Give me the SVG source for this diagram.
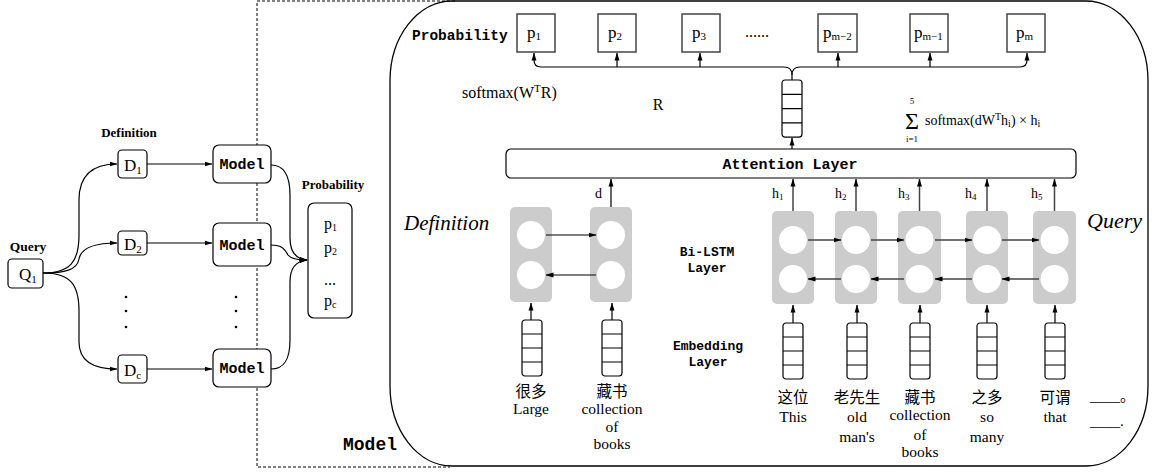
<svg xmlns="http://www.w3.org/2000/svg" width="1153" height="472" viewBox="0 0 1153 472">
<style>
.s{font-family:"Liberation Serif","Times New Roman",serif;fill:#000}
.sb{font-family:"Liberation Serif","Times New Roman",serif;font-weight:bold;fill:#000}
.m{font-family:"Liberation Mono","Courier New",monospace;font-weight:bold;fill:#000}
.cj{font-family:"Liberation Serif","Noto Sans CJK SC",serif;fill:#000}
.box{fill:#fff;stroke:#000;stroke-width:1.2}
.sq{fill:#fff;stroke:#444;stroke-width:1.5}
.ln{fill:none;stroke:#000;stroke-width:1.2}
.ar{fill:none;stroke:#000;stroke-width:1.2;marker-end:url(#ah)}
.gar{fill:none;stroke:#444;stroke-width:1.5;marker-end:url(#ah)}
.gray{fill:#cccccc}
.cir{fill:#fff}
</style>
<defs>
<marker id="ah" markerWidth="8" markerHeight="6" refX="7.5" refY="3" orient="auto" markerUnits="userSpaceOnUse"><path d="M0,0.5 L8,3 L0,5.5 z" fill="#000"/></marker>
<g id="stk"><rect x="0" y="0" width="20" height="56" rx="3" class="box"/><path d="M0,14H20M0,28H20M0,42H20" class="ln"/></g>
</defs>
<rect width="1153" height="472" fill="#fff"/>

<!-- dashed outer model box -->
<path d="M455,1 H257 V467 H450" fill="none" stroke="#000" stroke-width="1" stroke-dasharray="3,2"/>
<!-- big rounded model box -->
<g id="modelbox">
<rect x="390" y="1" width="758" height="465" rx="62" ry="80" fill="none" stroke="#000" stroke-width="1.3"/>
<text x="343" y="450" class="m" font-size="18">Model</text>
</g>

<!-- Left part -->
<text x="129" y="137" class="sb" font-size="13" text-anchor="middle">Definition</text>
<text x="28" y="251" class="sb" font-size="13.5" text-anchor="middle">Query</text>
<text x="333" y="189" class="sb" font-size="13" text-anchor="middle">Probability</text>

<g id="q1"><rect x="8" y="259" width="35" height="29" rx="4" class="box"/><text x="19" y="280" class="s" font-size="17">Q<tspan font-size="11" dy="3">1</tspan></text></g>
<g id="d1"><rect x="118" y="150" width="29" height="28" rx="4" class="box"/><text x="124" y="171" class="s" font-size="17">D<tspan font-size="11" dy="3">1</tspan></text></g>
<g id="d2"><rect x="118" y="231" width="29" height="24" rx="4" class="box"/><text x="124" y="250" class="s" font-size="17">D<tspan font-size="11" dy="3">2</tspan></text></g>
<g id="dc"><rect x="118" y="355" width="29" height="28" rx="4" class="box"/><text x="124" y="376" class="s" font-size="17">D<tspan font-size="11" dy="3">c</tspan></text></g>
<g id="m1"><rect x="213" y="145" width="58" height="38" rx="6" class="box"/><text x="242" y="169" class="m" font-size="15" text-anchor="middle">Model</text></g>
<g id="m2"><rect x="213" y="223" width="58" height="43" rx="6" class="box"/><text x="242" y="250" class="m" font-size="15" text-anchor="middle">Model</text></g>
<g id="m3"><rect x="213" y="349" width="58" height="38" rx="6" class="box"/><text x="242" y="373" class="m" font-size="15" text-anchor="middle">Model</text></g>
<g id="dots">
<circle cx="126" cy="297" r="1.3"/><circle cx="126" cy="311" r="1.3"/><circle cx="126" cy="327" r="1.3"/>
<circle cx="236" cy="297" r="1.3"/><circle cx="236" cy="311" r="1.3"/><circle cx="236" cy="327" r="1.3"/>
</g>
<g id="probleft"><rect x="308" y="203" width="44" height="115" rx="6" class="box"/>
<text x="324" y="229" class="s" font-size="16">p<tspan font-size="10" dy="2">1</tspan></text>
<text x="324" y="253" class="s" font-size="16">p<tspan font-size="10" dy="2">2</tspan></text>
<text x="324" y="285" class="s" font-size="16">...</text>
<text x="324" y="306" class="s" font-size="16">p<tspan font-size="10" dy="2">c</tspan></text>
</g>

<g id="leftconn">
<path d="M43,273 C70,273 79,262 79,235 L79,200 C79,175 92,164 117,164" class="ar"/>
<path d="M43,273 C65,273 77,270 79,259 C81,248 95,243 117,243" class="ar"/>
<path d="M43,273 C70,273 79,284 79,311 L79,342 C79,360 92,369 117,369" class="ar"/>
<path d="M147,164 H212" class="ar"/>
<path d="M147,243 H212" class="ar"/>
<path d="M147,369 H212" class="ar"/>
<path d="M271,165 C284,165 290,175 290,195 L290,238 C290,252 296,259 307,260" class="ar"/>
<path d="M271,245 C283,245 285,250 288,255 C291,259 298,260 307,260" class="ar"/>
<path d="M271,369 C284,369 290,360 290,340 L290,282 C290,268 296,261 307,260" class="ar"/>
</g>

<!-- Right part: top probability -->
<text x="412" y="40" class="m" font-size="14.5">Probability</text>
<g id="p1"><rect x="517" y="14" width="38" height="38" class="sq"/><text x="527" y="38" class="s" font-size="17">p<tspan font-size="11" dy="2">1</tspan></text></g>
<g id="p2"><rect x="598" y="14" width="38" height="38" class="sq"/><text x="608" y="38" class="s" font-size="17">p<tspan font-size="11" dy="2">2</tspan></text></g>
<g id="p3"><rect x="682" y="14" width="38" height="38" class="sq"/><text x="692" y="38" class="s" font-size="17">p<tspan font-size="11" dy="2">3</tspan></text></g>
<text x="745" y="37" class="s" font-size="16">......</text>
<g id="pm2"><rect x="818" y="14" width="39" height="38" class="sq"/><text x="823" y="38" class="s" font-size="17">p<tspan font-size="11" dy="2">m−2</tspan></text></g>
<g id="pm1"><rect x="910" y="14" width="38" height="38" class="sq"/><text x="914" y="38" class="s" font-size="17">p<tspan font-size="11" dy="2">m−1</tspan></text></g>
<g id="pm"><rect x="1007" y="14" width="38" height="38" class="sq"/><text x="1016" y="38" class="s" font-size="17">p<tspan font-size="11" dy="2">m</tspan></text></g>

<text x="462" y="98" class="s" font-size="16">softmax(W<tspan font-size="11" dy="-6">T</tspan><tspan dy="6">R)</tspan></text>
<text x="658" y="110" class="s" font-size="16" text-anchor="middle">R</text>

<g id="rvec"><use href="#stk" transform="translate(782,80) scale(1,1.02)"/></g>

<text x="912" y="129" class="s" font-size="24" text-anchor="middle">Σ</text>
<text x="912" y="104" class="s" font-size="9" text-anchor="middle">5</text>
<text x="912" y="142" class="s" font-size="9" text-anchor="middle">i=1</text>
<text x="925" y="125" class="s" font-size="14">softmax(dW<tspan font-size="10" dy="-5">T</tspan><tspan dy="5">h</tspan><tspan font-size="10" dy="2">i</tspan><tspan dy="-2">) × h</tspan><tspan font-size="10" dy="2">i</tspan></text>

<g id="attn"><rect x="506" y="149" width="570" height="29" rx="5" class="box"/><text x="790" y="169" class="m" font-size="15" text-anchor="middle">Attention Layer</text></g>

<g id="topconn">
<path d="M792,80 V75 Q792,67 784,67 H541 Q534,67 534,60 V53" class="ar"/>
<path d="M792,75 Q792,67 800,67 H1020 Q1027,67 1027,60 V53" class="ar"/>
<path d="M617,67 V53" class="ar"/>
<path d="M700,67 V53" class="ar"/>
<path d="M838,67 V53" class="ar"/>
<path d="M930,67 V53" class="ar"/>
<path d="M792,149 V138" class="ar"/>
</g>

<!-- labels -->
<text x="404" y="230" class="s" font-size="21" font-style="italic">Definition</text>
<text x="1087" y="228" class="s" font-size="22" font-style="italic">Query</text>
<text x="707" y="256" class="m" font-size="13" text-anchor="middle">Bi-LSTM</text>
<text x="707" y="272" class="m" font-size="13" text-anchor="middle">Layer</text>
<text x="708" y="350" class="m" font-size="13" text-anchor="middle">Embedding</text>
<text x="708" y="366" class="m" font-size="13" text-anchor="middle">Layer</text>

<!-- Definition LSTM -->
<g id="deflstm">
<rect x="510" y="207" width="42" height="95" rx="5" class="gray"/>
<rect x="590" y="207" width="42" height="95" rx="5" class="gray"/>
<circle cx="531" cy="235" r="14" class="cir"/><circle cx="531" cy="275" r="14" class="cir"/>
<circle cx="611" cy="235" r="14" class="cir"/><circle cx="611" cy="275" r="14" class="cir"/>
</g>
<!-- Query LSTM -->
<g id="qlstm">
<rect x="772" y="211" width="42" height="93" rx="5" class="gray"/>
<rect x="835" y="211" width="42" height="93" rx="5" class="gray"/>
<rect x="898" y="211" width="43" height="93" rx="5" class="gray"/>
<rect x="966" y="211" width="42" height="93" rx="5" class="gray"/>
<rect x="1033" y="211" width="43" height="93" rx="5" class="gray"/>
<circle cx="793" cy="240" r="14" class="cir"/><circle cx="793" cy="279" r="14" class="cir"/>
<circle cx="856" cy="240" r="14" class="cir"/><circle cx="856" cy="279" r="14" class="cir"/>
<circle cx="919.5" cy="240" r="14" class="cir"/><circle cx="919.5" cy="279" r="14" class="cir"/>
<circle cx="987" cy="240" r="14" class="cir"/><circle cx="987" cy="279" r="14" class="cir"/>
<circle cx="1054.5" cy="240" r="14" class="cir"/><circle cx="1054.5" cy="279" r="14" class="cir"/>
</g>

<g id="lstmconn">
<path d="M546,235 H596" class="ar"/>
<path d="M596,275 H546" class="ar"/>
<path d="M808,240 H841" class="gar"/>
<path d="M871,240 H904" class="gar"/>
<path d="M935,240 H972" class="gar"/>
<path d="M1002,240 H1039" class="gar"/>
<path d="M841,279 H808" class="gar"/>
<path d="M904,279 H871" class="gar"/>
<path d="M972,279 H935" class="gar"/>
<path d="M1039,279 H1002" class="gar"/>
<path d="M611,207 V179" class="ar"/>
<path d="M793,211 V179" class="gar"/>
<path d="M856,211 V179" class="gar"/>
<path d="M919.5,211 V179" class="gar"/>
<path d="M987,211 V179" class="gar"/>
<path d="M1054.5,211 V179" class="gar"/>
<path d="M531,320 V303" class="ar"/>
<path d="M612,320 V303" class="ar"/>
<path d="M793,323 V305" class="ar"/>
<path d="M857,323 V305" class="ar"/>
<path d="M920,323 V305" class="ar"/>
<path d="M987,323 V305" class="ar"/>
<path d="M1055,323 V305" class="ar"/>
</g>
<text x="595" y="198" class="s" font-size="14">d</text>
<text x="772" y="198" class="s" font-size="14">h<tspan font-size="9" dy="2">1</tspan></text>
<text x="835" y="198" class="s" font-size="14">h<tspan font-size="9" dy="2">2</tspan></text>
<text x="898" y="198" class="s" font-size="14">h<tspan font-size="9" dy="2">3</tspan></text>
<text x="965" y="198" class="s" font-size="14">h<tspan font-size="9" dy="2">4</tspan></text>
<text x="1031" y="198" class="s" font-size="14">h<tspan font-size="9" dy="2">5</tspan></text>

<!-- Embeddings -->
<g id="emb">
<use href="#stk" x="522" y="320"/>
<use href="#stk" x="602" y="320"/>
<use href="#stk" x="783" y="323"/>
<use href="#stk" x="847" y="323"/>
<use href="#stk" x="910" y="323"/>
<use href="#stk" x="977" y="323"/>
<use href="#stk" x="1045" y="323"/>
</g>

<g font-size="15.5" text-anchor="middle">
<text x="531" y="397" class="cj">很多</text>
<text x="531" y="414" class="s">Large</text>
<text x="612" y="397" class="cj">藏书</text>
<text x="612" y="414" class="s">collection</text>
<text x="612" y="432" class="s">of</text>
<text x="612" y="449" class="s">books</text>
<text x="793" y="403" class="cj">这位</text>
<text x="793" y="422" class="s">This</text>
<text x="857" y="403" class="cj">老先生</text>
<text x="857" y="422" class="s">old</text>
<text x="857" y="442" class="s">man's</text>
<text x="920" y="403" class="cj">藏书</text>
<text x="920" y="420" class="s">collection</text>
<text x="920" y="440" class="s">of</text>
<text x="920" y="457" class="s">books</text>
<text x="987" y="403" class="cj">之多</text>
<text x="987" y="422" class="s">so</text>
<text x="987" y="442" class="s">many</text>
<text x="1055" y="403" class="cj">可谓</text>
<text x="1055" y="422" class="s">that</text>
</g>
<text x="1090" y="401" class="cj" font-size="15">____。</text>
<text x="1090" y="426" class="s" font-size="15">____.</text>
</svg>
